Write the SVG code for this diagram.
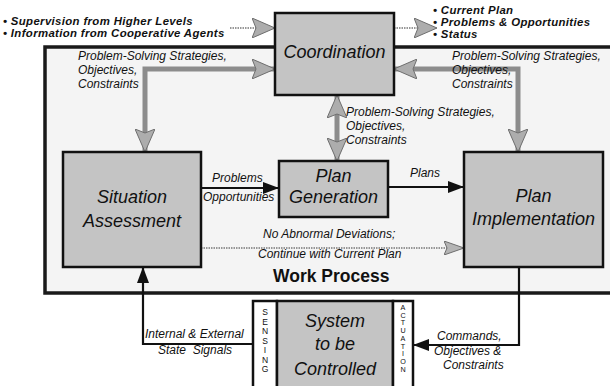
<svg xmlns="http://www.w3.org/2000/svg" width="610" height="386" viewBox="0 0 610 386">
<style>
 .box{fill:#c4c4c4;stroke:#111;stroke-width:2.5}
 .wbox{fill:#ffffff;stroke:#111;stroke-width:2.5}
 .title{font-family:"Liberation Sans",Arial,sans-serif;font-style:italic;font-size:18px;fill:#111;text-anchor:middle}
 .lbl{font-family:"Liberation Sans",Arial,sans-serif;font-style:italic;font-size:12px;fill:#111}
 .bul{font-family:"Liberation Sans",Arial,sans-serif;font-style:italic;font-weight:bold;font-size:11.4px;letter-spacing:0.35px;fill:#111}
 .blk{fill:none;stroke:#111;stroke-width:2.2}
 .gray{fill:none;stroke:#8c8c8c;stroke-width:5}
 .dot{fill:none;stroke:#777;stroke-width:1.6;stroke-dasharray:1.5 1}
 .vs{font-family:"Liberation Sans",Arial,sans-serif;font-size:8.5px;fill:#111;text-anchor:middle}
 .va{font-family:"Liberation Sans",Arial,sans-serif;font-size:7.2px;fill:#111;text-anchor:middle}
 .wp{font-family:"Liberation Sans",Arial,sans-serif;font-weight:bold;font-size:17.5px;fill:#111}
</style>
<defs>
 <marker id="ah" markerUnits="userSpaceOnUse" markerWidth="16" markerHeight="12" refX="16" refY="6" orient="auto-start-reverse"><path d="M0,0 L16,6 L0,12 Z" fill="#111"/></marker>
 <marker id="gh" markerUnits="userSpaceOnUse" markerWidth="23" markerHeight="20" refX="23" refY="10" orient="auto-start-reverse"><path d="M0,0 L23,10 L0,20 L4,10 Z" fill="#adadad" stroke="#6e6e6e" stroke-width="1"/></marker>
 <marker id="gs" markerUnits="userSpaceOnUse" markerWidth="20" markerHeight="14" refX="20" refY="7" orient="auto-start-reverse"><path d="M0,0 L20,7 L0,14 L3,7 Z" fill="#b4b4b4" stroke="#6e6e6e" stroke-width="1"/></marker>
</defs>

<g id="work-process">
 <rect x="45" y="47" width="580" height="246" fill="#f4f4f4" stroke="#1a1a1a" stroke-width="3.5"/>
 <text class="wp" x="273" y="282">Work Process</text>
</g>

<g id="external-labels">
 <text class="bul" x="3" y="25">• Supervision from Higher Levels</text>
 <text class="bul" x="3" y="37">• Information from Cooperative Agents</text>
 <text class="bul" x="433" y="14">• Current Plan</text>
 <text class="bul" x="433" y="26">• Problems &amp; Opportunities</text>
 <text class="bul" x="433" y="38">• Status</text>
</g>

<g id="connectors">
 <path class="dot" d="M230,28 L275,28" marker-end="url(#gh)"/>
 <path class="dot" d="M394,28 L437,28" marker-end="url(#gh)"/>
 <path class="gray" d="M145,152 L145,69 L275,69" marker-start="url(#gh)" marker-end="url(#gh)"/>
 <path class="gray" d="M394,69 L518,69 L518,152" marker-start="url(#gh)" marker-end="url(#gh)"/>
 <path class="gray" d="M337,95 L337,161" marker-start="url(#gh)" marker-end="url(#gh)"/>
 <path class="blk" d="M201,188 L279,188" marker-end="url(#ah)"/>
 <path class="blk" d="M388,187 L464,187" marker-end="url(#ah)"/>
 <path class="dot" d="M201,248 L464,248" marker-end="url(#gs)"/>
 <path class="blk" d="M253,344 L143,344 L143,267" marker-end="url(#ah)"/>
 <path class="blk" d="M519,267 L519,345 L413,345" marker-end="url(#ah)"/>
 <text class="lbl" x="78" y="60">Problem-Solving Strategies,</text>
 <text class="lbl" x="78" y="74">Objectives,</text>
 <text class="lbl" x="78" y="88">Constraints</text>
 <text class="lbl" x="452" y="60">Problem-Solving Strategies,</text>
 <text class="lbl" x="452" y="74">Objectives,</text>
 <text class="lbl" x="452" y="88">Constraints</text>
 <text class="lbl" x="346" y="116">Problem-Solving Strategies,</text>
 <text class="lbl" x="346" y="130">Objectives,</text>
 <text class="lbl" x="346" y="144">Constraints</text>
 <text class="lbl" x="212" y="182">Problems</text>
 <text class="lbl" x="203" y="201">Opportunities</text>
 <text class="lbl" x="410" y="177">Plans</text>
 <text class="lbl" x="263" y="238">No Abnormal Deviations;</text>
 <text class="lbl" x="258" y="258">Continue with Current Plan</text>
 <text class="lbl" x="145" y="338">Internal &amp; External</text>
 <text class="lbl" x="158" y="354" xml:space="preserve">State  Signals</text>
 <text class="lbl" x="437" y="340">Commands,</text>
 <text class="lbl" x="434" y="355">Objectives &amp;</text>
 <text class="lbl" x="443" y="369">Constraints</text>
</g>

<g id="coordination">
 <rect class="box" x="275" y="13" width="119" height="82"/>
 <text class="title" x="334.5" y="58">Coordination</text>
</g>

<g id="situation-assessment">
 <rect class="box" x="63" y="152" width="138" height="115"/>
 <text class="title" x="132" y="203">Situation</text>
 <text class="title" x="132" y="227">Assessment</text>
</g>

<g id="plan-generation">
 <rect class="box" x="279" y="161" width="109" height="56"/>
 <text class="title" x="333.5" y="182">Plan</text>
 <text class="title" x="333.5" y="203">Generation</text>
</g>

<g id="plan-implementation">
 <rect class="box" x="464" y="152" width="139" height="115"/>
 <text class="title" x="533.5" y="202">Plan</text>
 <text class="title" x="533.5" y="225">Implementation</text>
</g>

<g id="system">
 <rect class="wbox" x="253" y="301" width="24" height="95"/>
 <rect class="box" x="277" y="301" width="116" height="95"/>
 <rect class="wbox" x="393" y="301" width="20" height="95"/>
 <text class="title" x="335" y="327">System</text>
 <text class="title" x="335" y="350">to be</text>
 <text class="title" x="335" y="375">Controlled</text>
 <g class="vs">
  <text x="265" y="315">S</text><text x="265" y="324.5">E</text><text x="265" y="334">N</text><text x="265" y="343.5">S</text><text x="265" y="353">I</text><text x="265" y="362.5">N</text><text x="265" y="372">G</text>
 </g>
 <g class="va">
  <text x="403" y="310">A</text><text x="403" y="317.7">C</text><text x="403" y="325.4">T</text><text x="403" y="333.1">U</text><text x="403" y="340.8">A</text><text x="403" y="348.5">T</text><text x="403" y="356.2">I</text><text x="403" y="363.9">O</text><text x="403" y="371.6">N</text>
 </g>
</g>
</svg>
